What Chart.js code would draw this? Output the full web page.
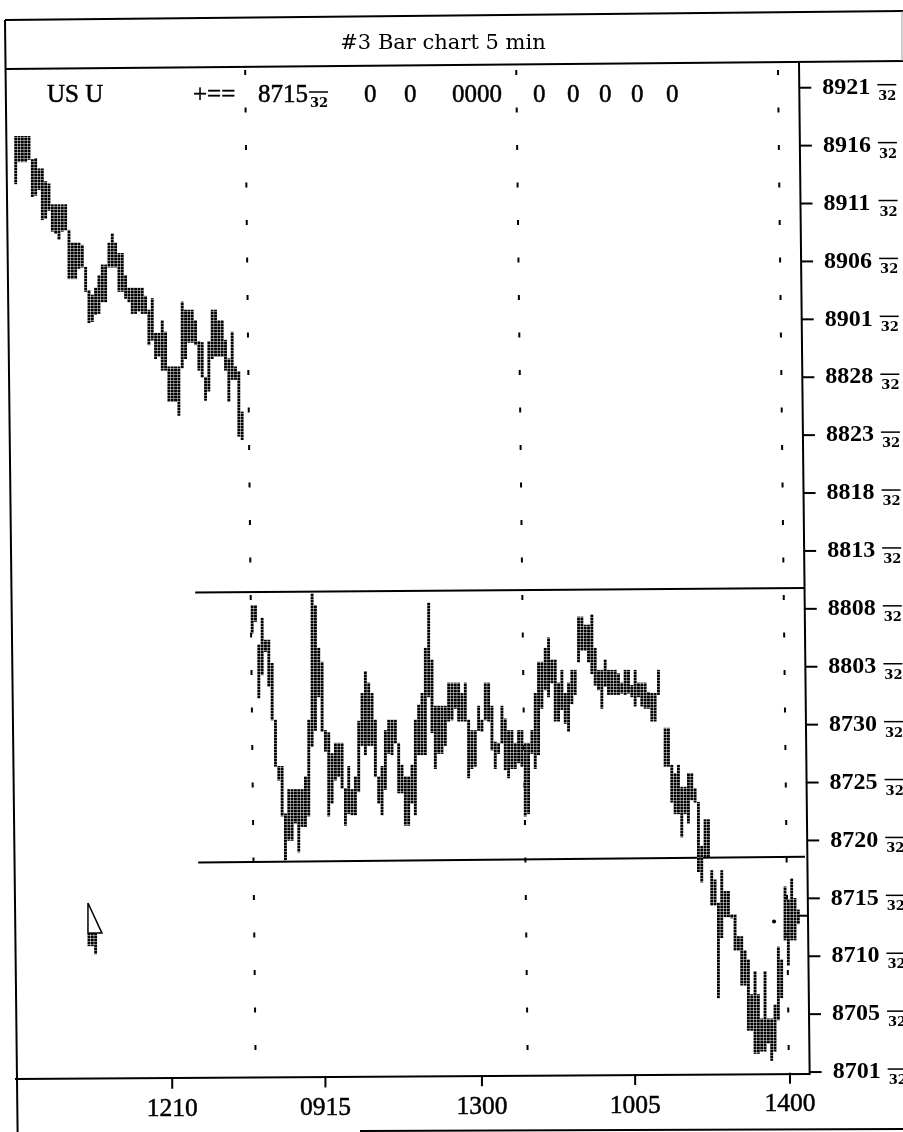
<!DOCTYPE html>
<html lang="en">
<head>
  <meta charset="UTF-8">
  <title>#3 Bar chart 5 min</title>
  <script src="https://cdn.jsdelivr.net/npm/chart.js@4"></script>
  <style>
    * { margin: 0; padding: 0; }
    html, body { background: #fff; overflow: hidden; }
    canvas { display: block; }
  </style>
</head>
<body>
  <canvas id="barChart" width="903" height="1132"></canvas>
  <script>
    // prices are in 32nds above the bottom tick of the axis
    const yTickValues = [0, 5, 10, 15, 20, 25, 30, 35, 40, 45, 50, 55, 60, 65, 70, 75, 80, 85];
    const yTickLabels = ['8701', '8705', '8710', '8715', '8720', '8725', '8730', '8803', '8808',
                         '8813', '8818', '8823', '8828', '8901', '8906', '8911', '8916', '8921'];
    const xTickValues = [47, 93, 140, 186, 232.5];
    const xTickLabels = ['1210', '0915', '1300', '1005', '1400'];

    const seg1Start = 0;
    const seg1High = [80.8,80.8,80.8,80.8,80.8,78.8,78.9,78.0,78.0,76.9,76.7,74.9,74.9,74.9,74.9,74.9,72.7,71.6,71.6,71.6,
      71.4,69.5,67.5,67.1,67.7,68.8,69.7,69.7,71.6,72.4,71.6,70.7,70.7,68.8,67.7,67.7,67.7,67.7,67.7,67.0,
      65.8,66.8,63.8,63.8,64.9,63.9,60.9,60.9,60.9,60.9,66.5,65.8,65.8,65.8,64.9,63.1,63.0,60.0,63.1,65.8,
      65.8,64.9,64.9,63.2,61.6,63.9,60.9,60.5,57.0];
    const seg1Low = [76.7,78.6,78.6,78.6,78.8,75.6,75.7,76.2,73.6,73.7,74.4,72.6,72.4,71.9,72.6,72.7,68.5,68.5,68.5,69.4,
      69.5,67.4,64.7,64.8,65.4,65.5,66.5,66.5,69.5,69.5,69.5,67.4,67.4,66.8,66.5,65.5,65.5,65.7,65.5,65.5,
      62.8,63.2,61.6,61.8,60.6,60.6,57.9,57.9,57.9,56.7,60.8,61.6,63.0,63.0,62.8,60.6,60.0,58.0,58.8,61.6,
      61.8,61.8,61.8,60.6,57.9,59.8,59.8,54.9,54.6];

    const seg2Start = 71;
    const seg2High = [40.3,40.3,36.9,39.2,37.3,37.3,35.3,30.4,26.4,26.4,22.3,24.4,24.4,24.4,24.4,24.4,25.5,30.4,41.3,40.3,
      36.6,35.4,29.5,29.3,27.5,28.4,28.4,28.4,24.5,26.4,24.4,25.5,30.3,32.7,34.6,33.6,32.7,30.4,25.5,26.4,
      29.5,30.4,30.4,30.4,28.4,26.5,25.5,25.5,26.5,30.4,31.7,32.7,36.6,40.5,35.6,31.6,31.6,31.6,31.6,33.6,
      33.6,33.6,33.6,32.7,33.6,30.4,29.5,29.5,31.6,30.4,33.6,33.6,31.6,28.5,28.4,31.6,30.5,29.5,29.5,28.4,
      29.5,29.5,28.4,28.4,29.5,32.7,35.4];
    const seg2Low = [37.9,38.9,32.3,34.3,36.3,33.3,30.4,26.4,25.2,22.1,18.3,20.0,20.0,21.5,19.0,21.2,21.2,22.1,28.1,29.5,
      32.4,29.4,27.7,22.1,23.2,25.2,25.5,24.5,21.3,22.3,22.2,22.2,24.2,28.2,27.4,28.2,28.2,25.5,23.2,22.2,
      24.4,27.5,27.4,28.4,24.1,24.1,21.3,21.3,23.2,22.2,27.4,27.4,27.4,32.4,29.3,26.2,27.5,27.5,28.2,30.3,
      30.4,31.4,30.3,30.3,30.3,25.4,26.2,26.4,29.5,29.4,30.4,30.3,27.8,26.2,27.5,28.4,26.1,25.4,26.2,26.2,
      26.7,26.4,22.1,22.3,27.5,26.2,27.4];

    const seg3Start = 158;
    const seg3High = [35.4,36.6,37.5,35.6,35.6,33.6,34.7,32.7,33.6,34.7,34.7,39.3,39.3,38.6,38.6,39.5,36.6,34.7,34.7,35.6,
      34.7,34.7,34.7,34.4,33.6,34.7,34.7,33.4,34.7,33.6,33.6,33.6,32.8,32.7,32.7,34.7];
    const seg3Low = [31.4,33.0,32.4,33.6,30.3,30.3,31.3,30.1,29.4,31.8,32.6,35.4,36.4,36.4,35.4,34.4,33.4,33.0,31.4,33.3,
      32.6,32.6,32.6,32.6,32.7,32.6,32.7,32.4,31.6,32.4,31.6,31.4,31.4,30.3,30.3,32.6];

    const seg4Start = 195;
    const seg4High = [29.7,29.7,26.5,25.8,26.5,24.6,24.6,25.8,25.8,24.5,23.3,19.5,21.8,21.8,17.4,16.6,14.6,17.4,15.6,15.6,
      13.6,13.6,11.7,11.7,10.5,9.7,6.7,8.7,6.7,4.6,8.7,4.6,4.6,5.8,10.8,9.7,16.0,14.9,16.7,15.0,14.0];
    const seg4Low = [26.4,26.4,23.3,22.3,22.3,20.3,22.3,21.5,23.5,23.3,17.3,16.4,18.6,18.6,14.4,14.4,6.4,11.6,13.4,13.4,
      13.3,10.5,10.5,7.5,7.5,3.6,3.6,1.6,1.6,1.8,1.8,2.5,1.0,1.8,4.5,6.4,11.4,9.2,11.4,11.4,12.8];

    // the little arrow marker lower left
    const arrowOutlineX = [21.7, 25.9, 21.7, 21.7];
    const arrowOutlineY = [14.6, 12.0, 12.0, 14.6];
    const arrowBarsStart = 22;
    const arrowBarsHigh = [12.0, 12.0, 12.0];
    const arrowBarsLow = [10.9, 10.9, 10.2];

    // range lines, last price tick and the stray dot
    const upperLineX = [53.9, 237.0];
    const upperLineY = [41.4, 41.8];
    const lowerLineX = [54.8, 237.0];
    const lowerLineY = [18.1, 18.6];
    const lastTickX = [235, 237.7];
    const lastTickY = [13.5, 13.5];
    const strayDotX = [227.7];
    const strayDotY = [13.0];

    // session separators lean with the scan
    const sessionTopY = 86.53, sessionBottomY = 1.9;
    const sessionTopX = [68.9, 150.3, 228.9];
    const sessionBottomX = [72.0, 153.7, 232.1];

    function segment(start, highs, lows) {
      return highs.map((h, i) => ({ x: start + i, y: [lows[i], h] }));
    }
    function xyPoints(xs, ys) {
      return xs.map((x, i) => ({ x: x, y: ys[i] }));
    }

    const bars = [
      ...segment(seg1Start, seg1High, seg1Low),
      ...segment(seg2Start, seg2High, seg2Low),
      ...segment(seg3Start, seg3High, seg3Low),
      ...segment(seg4Start, seg4High, seg4Low),
      ...segment(arrowBarsStart, arrowBarsHigh, arrowBarsLow)
    ];

    // stippled look of the dense bars
    const tile = document.createElement('canvas');
    tile.width = 2; tile.height = 3;
    const tctx = tile.getContext('2d');
    tctx.fillStyle = '#000';
    tctx.fillRect(0, 0, 2, 3);
    tctx.fillStyle = '#777';
    tctx.fillRect(0, 2, 2, 1);
    const stipple = tctx.createPattern(tile, 'repeat');

    function lineSet(data, extra) {
      return Object.assign({
        type: 'line', data: data, borderColor: '#000', borderWidth: 2,
        pointRadius: 0, tension: 0, clip: false, fill: false
      }, extra || {});
    }

    const datasets = [
      { type: 'bar', label: 'Price', data: bars, backgroundColor: stipple, barThickness: 2.2 },
      lineSet(xyPoints(upperLineX, upperLineY)),
      lineSet(xyPoints(lowerLineX, lowerLineY)),
      lineSet(xyPoints(lastTickX, lastTickY)),
      lineSet(xyPoints(arrowOutlineX, arrowOutlineY), { borderWidth: 1.5 }),
      lineSet(xyPoints(strayDotX, strayDotY), { showLine: false, pointRadius: 2, pointBackgroundColor: '#000', pointBorderWidth: 0 })
    ];
    sessionTopX.forEach((x, i) => {
      datasets.push(lineSet(xyPoints([x, sessionBottomX[i]], [sessionTopY, sessionBottomY]),
        { borderDash: [5, 32.5] }));
    });

    const serif = '"Liberation Serif"';
    const axisRightX = y => 799 + 0.0105 * (y - 60);

    function stroke(ctx, x1, y1, x2, y2, w) {
      ctx.lineWidth = w || 2;
      ctx.beginPath();
      ctx.moveTo(x1, y1);
      ctx.lineTo(x2, y2);
      ctx.stroke();
    }
    function thirtySeconds(ctx, x, y) {
      ctx.font = 'bold 13px "DejaVu Serif"';
      ctx.textAlign = 'left';
      ctx.textBaseline = 'alphabetic';
      ctx.fillText('32', x + 1, y + 12);
      stroke(ctx, x, y - 3, x + 19, y - 3, 1.5);
    }
    // scanned type is a little heavier than the regular face
    function heavyText(ctx, s, x, y) {
      ctx.lineWidth = 0.5;
      ctx.fillText(s, x, y);
      ctx.strokeText(s, x, y);
    }

    // frame, axes and all text; tick positions come from the chart scales
    const frame = {
      id: 'frame',
      afterDraw(chart) {
        const { ctx, scales: { x, y } } = chart;
        ctx.save();
        ctx.strokeStyle = '#000';
        ctx.fillStyle = '#000';

        stroke(ctx, 5, 20, 903, 11);
        stroke(ctx, 6, 69, 903, 61);
        stroke(ctx, 5, 20, 17.6, 1132);
        stroke(ctx, axisRightX(60), 62, axisRightX(1075), 1075);
        stroke(ctx, 15, 1079, 810, 1074);
        stroke(ctx, 360, 1131, 903, 1129);
        ctx.strokeStyle = '#999';
        stroke(ctx, 902, 11, 902, 61, 1);
        ctx.strokeStyle = '#000';

        yTickValues.forEach((v, i) => {
          const py = y.getPixelForValue(v);
          const ax = axisRightX(py);
          stroke(ctx, ax, py, ax + 12, py);
          ctx.font = 'bold 24px ' + serif;
          ctx.textAlign = 'left';
          ctx.textBaseline = 'middle';
          ctx.fillText(yTickLabels[i], ax + 23, py);
          thirtySeconds(ctx, ax + 78, py);
        });

        xTickValues.forEach((v, i) => {
          const px = x.getPixelForValue(v);
          const base = 1079 - 0.0081 * (px - 15);
          stroke(ctx, px, base, px, base + 11);
          ctx.font = '25.5px ' + serif;
          ctx.textAlign = 'center';
          ctx.textBaseline = 'middle';
          heavyText(ctx, xTickLabels[i], px, base + 32);
        });

        ctx.textAlign = 'center';
        ctx.textBaseline = 'middle';
        ctx.font = '21px "DejaVu Serif"';
        ctx.fillText('#3 Bar chart 5 min', 443, 44);

        ctx.font = '25px ' + serif;
        ctx.textAlign = 'left';
        heavyText(ctx, 'US U', 47, 95);
        heavyText(ctx, '+==', 193, 95);
        heavyText(ctx, '8715', 258, 95);
        heavyText(ctx, '0', 364, 95);
        heavyText(ctx, '0', 404, 95);
        heavyText(ctx, '0000', 452, 95);
        ['0', '0', '0', '0', '0'].forEach((z, i) => {
          heavyText(ctx, z, [533, 567, 599, 631, 666][i], 95);
        });
        thirtySeconds(ctx, 309, 95);
        ctx.restore();
      }
    };

    new Chart(document.getElementById('barChart'), {
      data: { datasets: datasets },
      plugins: [frame],
      options: {
        responsive: false,
        animation: false,
        layout: { padding: { left: 6, right: 98, top: 70, bottom: 53 } },
        scales: {
          x: { type: 'linear', display: false, offset: false, min: -2.91, max: 237.0, grid: { display: false } },
          y: { type: 'linear', display: false, min: -0.6, max: 86.53, grid: { display: false } }
        },
        plugins: { legend: { display: false }, tooltip: { enabled: false } }
      }
    });
  </script>
</body>
</html>
